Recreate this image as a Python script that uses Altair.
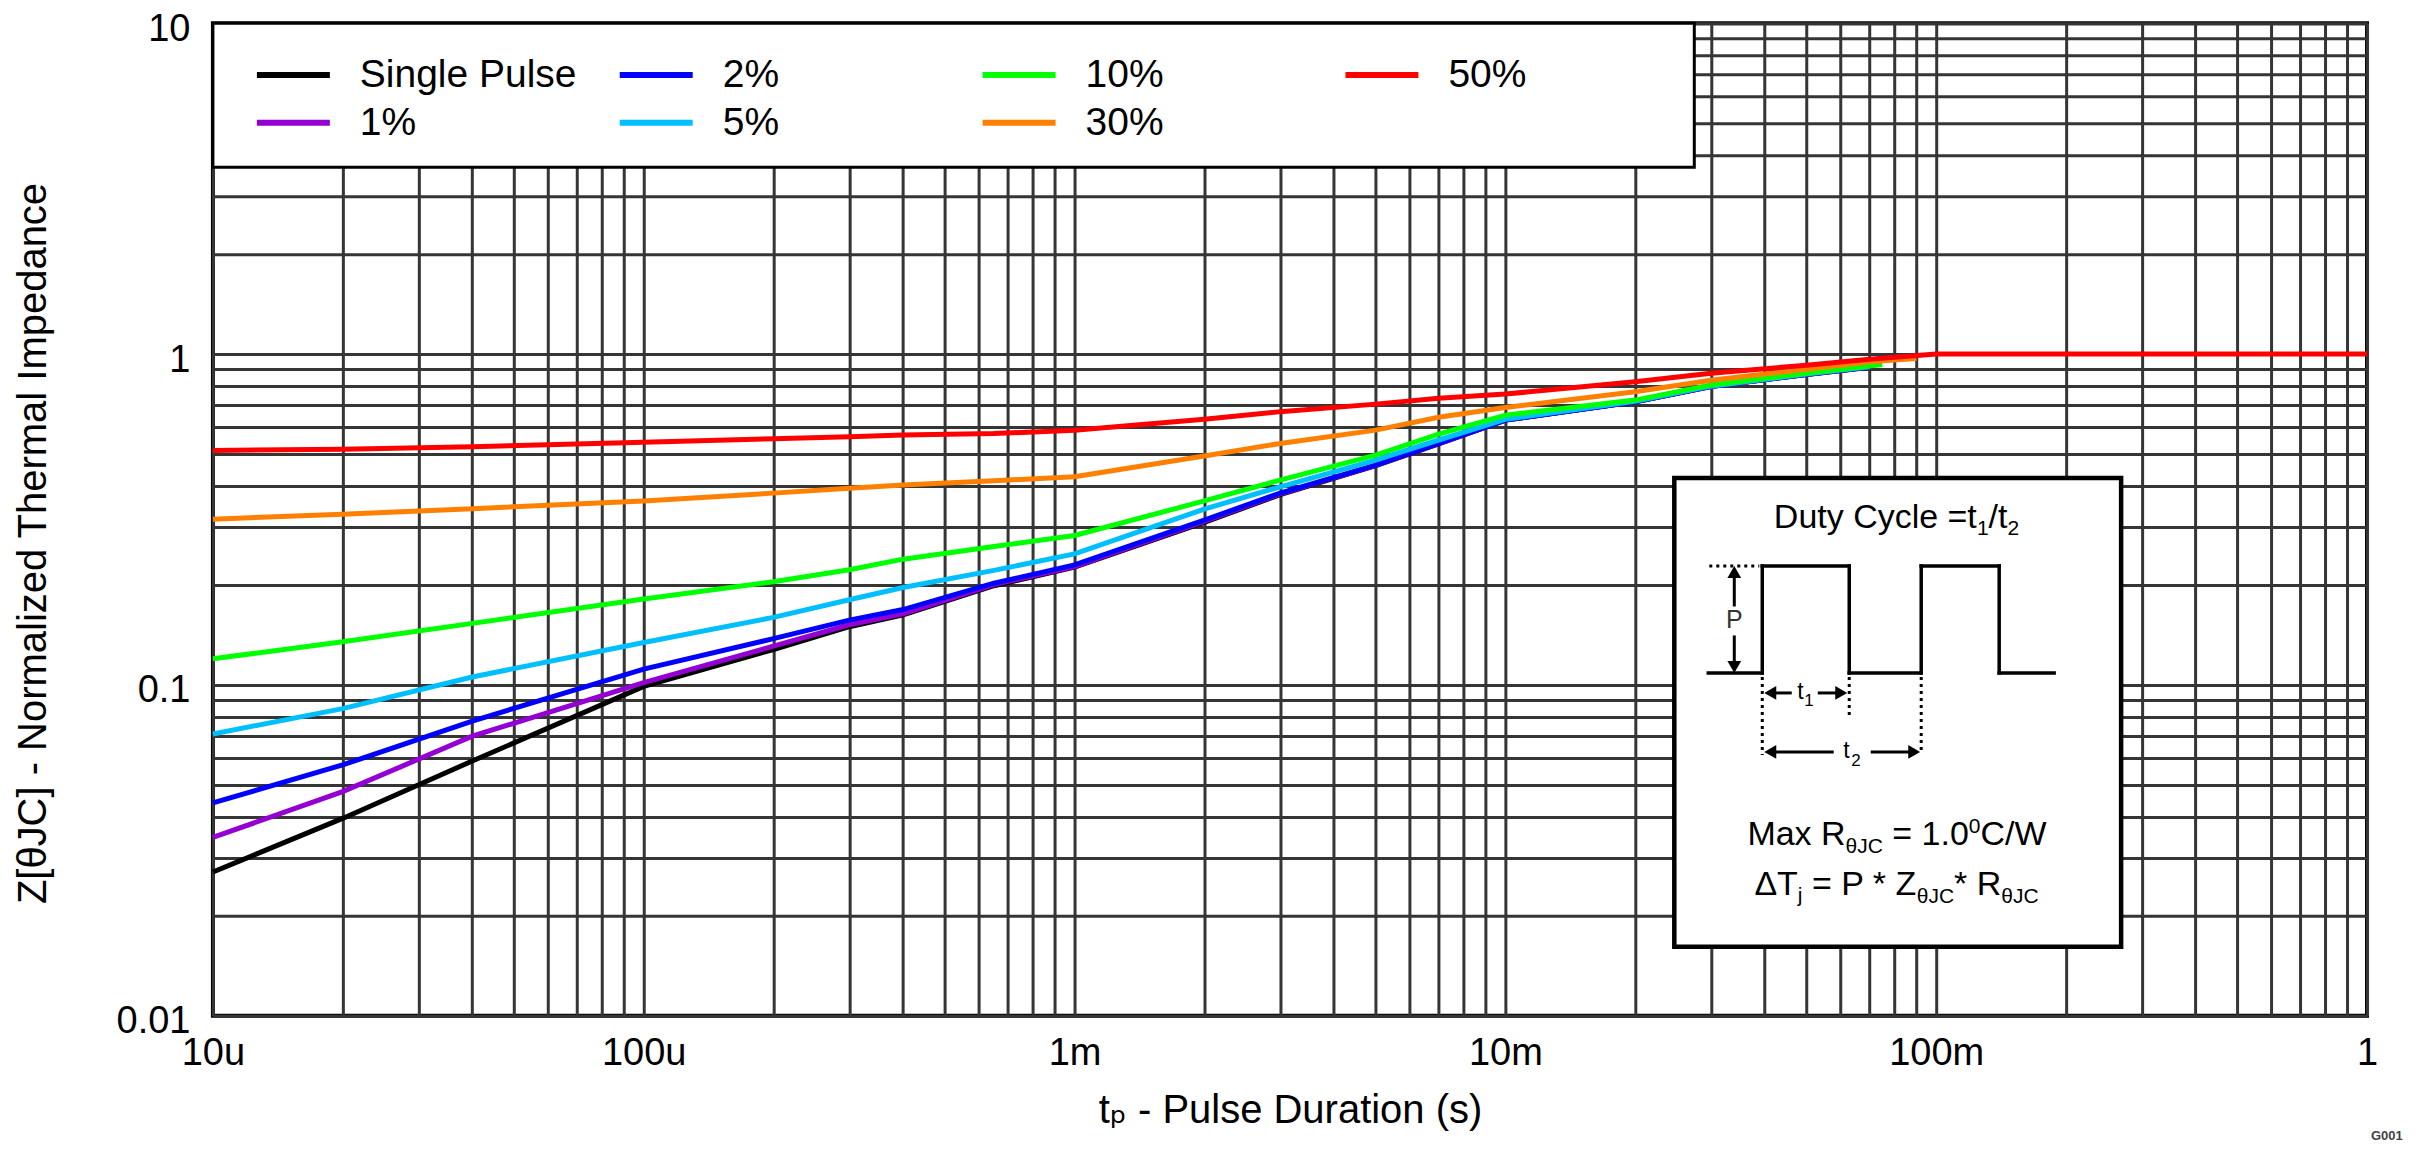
import json
import altair as alt
import pandas as pd

FONT = "Arial, Liberation Sans, DejaVu Sans, sans-serif"

# ---------------- data ----------------
SERIES = ["Single Pulse", "1%", "2%", "5%", "10%", "30%", "50%"]
COLORS = ["#000000", "#9400D3", "#0000FF", "#00BFFF", "#00FF00", "#FF8000", "#FF0000"]

T_LOW = [1e-5, 2e-5, 4e-5, 1e-4, 2e-4, 3e-4, 4e-4, 6.5e-4, 1e-3, 2e-3, 3e-3,
         5e-3, 7e-3, 1e-2, 2e-2, 3e-2, 5e-2, 7e-2]
T_10 = T_LOW[:-1] + [7.5e-2]
T_30 = T_LOW + [9e-2]
T_50 = T_LOW + [1e-1, 1.0]

Z_SINGLE = [0.0272, 0.0395, 0.0589, 0.099, 0.128, 0.150, 0.163, 0.1995, 0.227, 0.310,
            0.376, 0.460, 0.535, 0.632, 0.718, 0.798, 0.868, 0.913]
Z_1 = [0.0346, 0.0476, 0.070, 0.1016, 0.131, 0.152, 0.164, 0.201, 0.228, 0.312,
       0.378, 0.461, 0.536, 0.632, 0.718, 0.798, 0.868, 0.913]
Z_2 = [0.044, 0.0573, 0.0778, 0.1117, 0.138, 0.157, 0.169, 0.203, 0.2306, 0.315,
       0.380, 0.462, 0.537, 0.632, 0.718, 0.799, 0.869, 0.914]
Z_5 = [0.0711, 0.0848, 0.1057, 0.1344, 0.160, 0.181, 0.197, 0.222, 0.249, 0.340,
       0.397, 0.478, 0.550, 0.635, 0.720, 0.800, 0.870, 0.915]
Z_10 = [0.120, 0.135, 0.1535, 0.182, 0.205, 0.223, 0.240, 0.262, 0.283, 0.360,
        0.416, 0.495, 0.573, 0.654, 0.726, 0.806, 0.875, 0.930]
Z_30 = [0.317, 0.328, 0.341, 0.360, 0.380, 0.393, 0.402, 0.414, 0.426, 0.492,
        0.537, 0.589, 0.644, 0.690, 0.769, 0.834, 0.900, 0.948, 0.970]
Z_50 = [0.511, 0.516, 0.525, 0.541, 0.555, 0.563, 0.569, 0.575, 0.589, 0.635,
        0.670, 0.706, 0.735, 0.757, 0.825, 0.875, 0.926, 0.964, 1.0, 1.0]

X_TICK_LABELS = ["10u", "100u", "1m", "10m", "100m", "1"]
Y_TICK_LABELS = ["0.01", "0.1", "1", "10"]

X_GRID = [round(m * 10.0 ** e, 12) for e in range(-5, 0) for m in range(1, 10)] + [1.0]
Y_GRID = [round(m * 10.0 ** e, 12) for e in range(-2, 1) for m in range(1, 10)] + [10.0]

# ---------------- table ----------------
rows = []
for name, ts, zs in [("Single Pulse", T_LOW, Z_SINGLE), ("1%", T_LOW, Z_1), ("2%", T_LOW, Z_2),
                     ("5%", T_LOW, Z_5), ("10%", T_10, Z_10), ("30%", T_30, Z_30),
                     ("50%", T_50, Z_50)]:
    for t, z in zip(ts, zs):
        rows.append({"series": name, "t": t, "z": z})
df = pd.DataFrame(rows)

x_expr = ("abs(log(datum.value)/LN10 - round(log(datum.value)/LN10)) < 0.01 ? "
          + json.dumps(X_TICK_LABELS) + "[round(log(datum.value)/LN10) + 5] : ''")
y_expr = ("abs(log(datum.value)/LN10 - round(log(datum.value)/LN10)) < 0.01 ? "
          + json.dumps(Y_TICK_LABELS) + "[round(log(datum.value)/LN10) + 2] : ''")

GRID_COLOR = "#353535"

lines = alt.Chart(df).mark_line(strokeWidth=5).encode(
    x=alt.X("t:Q",
            scale=alt.Scale(type="log", domain=[1e-5, 1], nice=False),
            axis=alt.Axis(values=X_GRID, labelExpr=x_expr, grid=True, gridColor=GRID_COLOR,
                          gridWidth=3, gridOpacity=1, ticks=False, domain=False,
                          labelFont=FONT, labelFontSize=38, labelColor="black",
                          labelPadding=19, labelFlush=False, labelOverlap=False,
                          title="t\u209a - Pulse Duration (s)", titleFont=FONT,
                          titleFontSize=40, titleFontWeight="normal", titleColor="black",
                          titleBaseline="alphabetic", titleY=107)),
    y=alt.Y("z:Q",
            scale=alt.Scale(type="log", domain=[0.01, 10], nice=False),
            axis=alt.Axis(values=Y_GRID, labelExpr=y_expr, grid=True, gridColor=GRID_COLOR,
                          gridWidth=3, gridOpacity=1, ticks=False, domain=False,
                          labelFont=FONT, labelFontSize=38, labelColor="black",
                          labelPadding=23, labelOffset=6, labelFlush=False, labelOverlap=False,
                          title="Z[\u03b8JC] - Normalized Thermal Impedance", titleFont=FONT,
                          titleFontSize=40, titleFontWeight="normal", titleColor="black",
                          titleAngle=270, titleBaseline="alphabetic", titleAlign="center",
                          titleX=-167, titleY=520)),
    color=alt.Color("series:N",
                    scale=alt.Scale(domain=SERIES, range=COLORS),
                    legend=alt.Legend(title=None, orient="none", legendX=0, legendY=-3,
                                      direction="vertical", columns=4, gridAlign="all",
                                      symbolType="M-1.5,0L1.5,0", symbolSize=2368,
                                      symbolStrokeWidth=6, symbolOffset=26,
                                      labelOffset=39, labelFont=FONT, labelFontSize=39,
                                      labelColor="black", labelLimit=600,
                                      padding=27, rowPadding=0, columnPadding=26)),
)

dummy = pd.DataFrame({"d": [0]})


def rect(x1, y1, x2, y2, sw):
    return alt.Chart(dummy).mark_rect(fill="white", stroke="black", strokeWidth=sw).encode(
        x=alt.value(x1), x2=alt.value(x2), y=alt.value(y1), y2=alt.value(y2))


def seg(x1, y1, x2, y2, sw=3.5, dash=None):
    kw = dict(color="black", strokeWidth=sw, strokeCap="square")
    if dash:
        kw["strokeDash"] = dash
        kw["strokeCap"] = "butt"
    return alt.Chart(dummy).mark_rule(**kw).encode(
        x=alt.value(x1), x2=alt.value(x2), y=alt.value(y1), y2=alt.value(y2))


def head(x, y, shape):
    return alt.Chart(dummy).mark_point(shape=shape, filled=True, size=190, color="black",
                                       opacity=1, strokeWidth=0).encode(
        x=alt.value(x), y=alt.value(y))


def txt(s, x, y, size, color="black", align="left", weight="normal"):
    return alt.Chart(dummy).mark_text(text=s, font=FONT, fontSize=size, align=align,
                                      baseline="alphabetic", color=color,
                                      fontWeight=weight).encode(
        x=alt.value(x), y=alt.value(y))


layers = [lines, rect(0, 0, 1482, 144, 3)]

# inset box
layers.append(rect(1462, 455, 1909, 924, 4.5))
# waveform
wave = [(1496, 650), (1550, 650), (1550, 543), (1637, 543), (1637, 650), (1709, 650),
        (1709, 543), (1787, 543), (1787, 650), (1842, 650)]
for (a, b), (c, d) in zip(wave[:-1], wave[1:]):
    layers.append(seg(a, b, c, d))
DOT = [3, 4]
layers.append(seg(1497, 543, 1547, 543, 3, DOT))
layers.append(seg(1550, 654, 1550, 732, 3, DOT))
layers.append(seg(1637, 654, 1637, 694, 3, DOT))
layers.append(seg(1709, 654, 1709, 730, 3, DOT))
# P arrow
layers += [seg(1522, 552, 1522, 582, 3), seg(1522, 614, 1522, 641, 3),
           head(1522, 549, "triangle-up"), head(1522, 644, "triangle-down"),
           txt("P", 1522, 605, 25, "#333333", "center")]
# t1 arrow
layers += [seg(1560, 670, 1578, 670, 3), seg(1607, 670, 1627, 670, 3),
           head(1558, 670, "triangle-left"), head(1629, 670, "triangle-right"),
           txt("t", 1585, 676, 23), txt("1", 1592, 683, 17)]
# t2 arrow
layers += [seg(1560, 729, 1620, 729, 3), seg(1660, 729, 1700, 729, 3),
           head(1558, 729, "triangle-left"), head(1702, 729, "triangle-right"),
           txt("t", 1631, 735, 23), txt("2", 1639, 743, 17)]
# text lines
layers += [txt("Duty Cycle =t", 1561.6, 505, 34), txt("1", 1764.7, 512, 21),
           txt("/t", 1776.4, 505, 34), txt("2", 1795.3, 512, 21)]
layers += [txt("Max R", 1535.1, 822, 34), txt("\u03b8JC", 1633.3, 830, 21),
           txt("= 1.0", 1680.1, 822, 34), txt("0", 1756.6, 810, 21),
           txt("C/W", 1768.3, 822, 34)]
layers += [txt("\u0394T", 1542.1, 872, 34), txt("j", 1585.6, 879, 21),
           txt("= P * Z", 1599.8, 872, 34), txt("\u03b8JC", 1704.6, 880, 21),
           txt("* R", 1741.9, 872, 34), txt("\u03b8JC", 1789.1, 880, 21)]
layers.append(txt("G001", 2159, 1117, 13, "#444444", "left", "bold"))

chart = alt.layer(*layers).properties(
    width=2155, height=993,
    autosize=alt.AutoSizeParams(type="none"),
    padding={"left": 205, "top": 15, "right": 50, "bottom": 128},
    background="white",
).configure_view(stroke="black", strokeWidth=4)

chart.save("out.html", embed_options={"renderer": "svg", "actions": False})
